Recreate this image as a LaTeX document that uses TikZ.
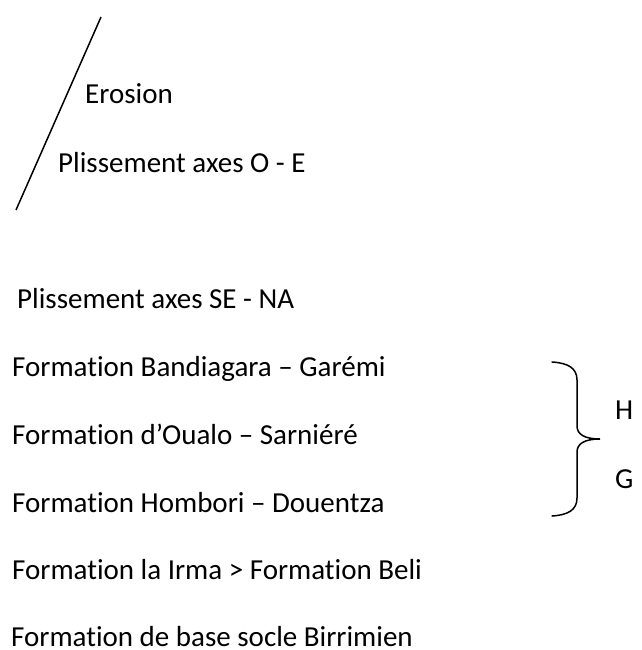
\documentclass[tikz,border=0pt]{standalone}
\usepackage{fontspec}
\setmainfont[Ligatures={NoCommon}]{Carlito}
\begin{document}
\begin{tikzpicture}[x=1pt,y=1pt,
  lbl/.style={anchor=base west,inner sep=0pt,font=\fontsize{29}{34}\selectfont},
  stroke/.style={line width=1.5pt,black}]
\useasboundingbox (0,0) rectangle (641,-650);
% slanted line
\coordinate (ltop) at (101,-17);
\coordinate (lbot) at (16,-210);
\draw[stroke] (ltop) -- (lbot);
% texts
\node[lbl] (ero) at (85,-104) {Erosion};
\node[lbl] (poe) at (58,-172) {Plissement axes O - E};
\node[lbl] (pse) at (17,-308) {Plissement axes SE - NA};
\node[lbl] (ban) at (12,-376) {Formation Bandiagara – Garémi};
\node[lbl] (oua) at (12,-444) {Formation d’Oualo – Sarniéré};
\node[lbl] (hom) at (12,-512) {Formation Hombori – Douentza};
\node[lbl] (irm) at (12,-579) {Formation la Irma > Formation Beli};
\node[lbl] (bir) at (11,-646) {Formation de base socle Birrimien};
% brace
\coordinate (btop) at (552,-362);
\coordinate (btip) at (600,-439);
\coordinate (bbot) at (552,-516);
\draw[stroke,line cap=round] (btop) .. controls (568,-363) and (577,-368) .. (577,-380)
  -- (577,-426) .. controls (577,-434) and (584,-439) .. (btip)
  .. controls (584,-439) and (577,-444) .. (577,-452)
  -- (577,-498) .. controls (577,-510) and (568,-515) .. (bbot);
\node[lbl] (h) at (615,-419) {H};
\node[lbl] (g) at (615,-488) {G};
\end{tikzpicture}
\end{document}
